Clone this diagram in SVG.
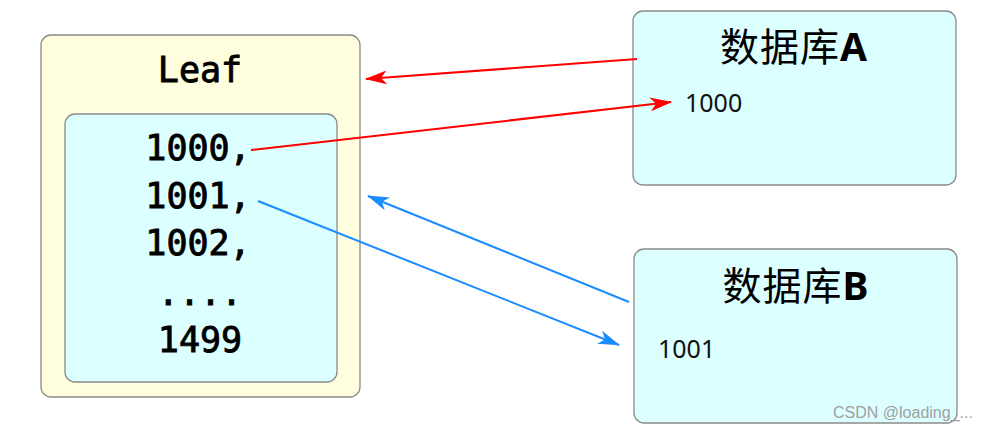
<svg xmlns="http://www.w3.org/2000/svg" width="986" height="431" viewBox="0 0 986 431">
<style>
.box{stroke:#8a8a8a;stroke-width:1.3}
.outer{fill:#ffffdf}
.inner{fill:#dcffff}
.mono{font-family:"DejaVu Sans Mono","Liberation Mono",monospace;font-weight:normal;font-size:35px;fill:#000;stroke:#000;stroke-width:0.9;text-anchor:middle}
.title{font-family:"Noto Sans CJK SC","Noto Sans",sans-serif;font-size:39px;fill:#000;text-anchor:middle;letter-spacing:1px}
.val{font-family:"Noto Sans","Liberation Sans",sans-serif;font-size:25px;fill:#111}
.wm{font-family:"Liberation Sans","Noto Sans",sans-serif;font-size:16px;fill:#a0a0a0}
.red{stroke:#ff0000;stroke-width:2;fill:none}
.blue{stroke:#1a8cff;stroke-width:2;fill:none}
</style>
<defs>
<marker id="ar" viewBox="0 0 22 14" markerWidth="22" markerHeight="14" refX="21" refY="7" orient="auto" markerUnits="userSpaceOnUse"><path d="M0,0 L22,7 L0,14 L6,7 z" fill="#ff0000"/></marker>
<marker id="ab" viewBox="0 0 22 14" markerWidth="22" markerHeight="14" refX="21" refY="7" orient="auto" markerUnits="userSpaceOnUse"><path d="M0,0 L22,7 L0,14 L6,7 z" fill="#1a8cff"/></marker>
</defs>
<rect width="986" height="431" fill="#ffffff"/>
<g id="leaf">
<rect class="box outer" x="41" y="35" width="319" height="362" rx="10"/>
<text class="mono" x="200" y="82">Leaf</text>
</g>
<g id="leaf-values">
<rect class="box inner" x="65" y="114" width="272" height="268" rx="10"/>
<text class="mono" x="198" y="160">1000,</text>
<text class="mono" x="198" y="208">1001,</text>
<text class="mono" x="198" y="255">1002,</text>
<text class="mono" x="200" y="305">....</text>
<text class="mono" x="200" y="352">1499</text>
</g>
<g id="dbA">
<rect class="box inner" x="633" y="11" width="323" height="174" rx="10"/>
<text class="title" x="794" y="61">数据库<tspan font-family="Noto Sans" font-weight="bold">A</tspan></text>
<text class="val" x="685" y="112">1000</text>
</g>
<g id="dbB">
<rect class="box inner" x="634" y="249" width="323" height="174" rx="10"/>
<text class="title" x="796" y="300">数据库<tspan font-family="Noto Sans" font-weight="bold">B</tspan></text>
<text class="val" x="658" y="358">1001</text>
</g>
<g id="connectors">
<line class="red" x1="637" y1="59" x2="366" y2="79" marker-end="url(#ar)"/>
<line class="red" x1="251" y1="150" x2="671" y2="102" marker-end="url(#ar)"/>
<line class="blue" x1="629" y1="302" x2="368" y2="196" marker-end="url(#ab)"/>
<line class="blue" x1="258" y1="201" x2="619" y2="345" marker-end="url(#ab)"/>
</g>
<text class="wm" x="833" y="418">CSDN @loading_...</text>
</svg>
